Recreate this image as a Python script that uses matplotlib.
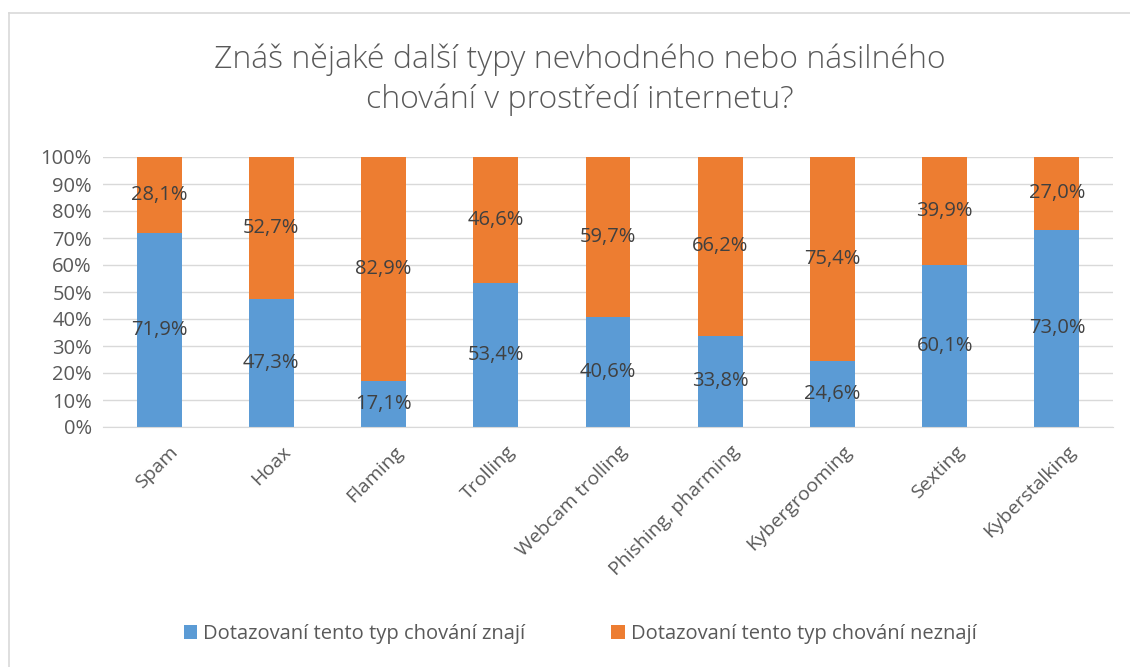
import matplotlib
matplotlib.use("Agg")
import matplotlib.pyplot as plt
from matplotlib.lines import Line2D
from matplotlib.ticker import PercentFormatter
from matplotlib.transforms import ScaledTranslation

# data
kategorie = ["Spam", "Hoax", "Flaming", "Trolling", "Webcam trolling",
             "Phishing, pharming", "Kybergrooming", "Sexting", "Kyberstalking"]
znaji = [71.9, 47.3, 17.1, 53.4, 40.6, 33.8, 24.6, 60.1, 73.0]
neznaji = [28.1, 52.7, 82.9, 46.6, 59.7, 66.2, 75.4, 39.9, 27.0]
serie_nazvy = ["Dotazovaní tento typ chování znají", "Dotazovaní tento typ chování neznají"]
titulek = "Znáš nějaké další typy nevhodného nebo násilného\nchování v prostředí internetu?"

plt.rcParams['font.family'] = ['Open Sans', 'DejaVu Sans']

MODRA = "#5B9BD5"
ORANZOVA = "#ED7D31"
SEDA = "#595959"
TMAVA = "#404040"
MRIZKA = "#D9D9D9"

fig = plt.figure(figsize=(11.3, 6.67), dpi=100)
ax = fig.add_axes([103 / 1130, 1 - 427 / 667, 1010 / 1130, 270 / 667])

x = range(len(kategorie))
ax.bar(x, znaji, width=0.4, color=MODRA, label=serie_nazvy[0], zorder=2)
ax.bar(x, neznaji, width=0.4, bottom=znaji, color=ORANZOVA, label=serie_nazvy[1], zorder=2)

# popisky hodnot
for i, (a, b) in enumerate(zip(znaji, neznaji)):
    ax.text(i, a / 2, f"{a:.1f}%".replace(".", ","), ha="center", va="center",
            fontsize=14.5, color=TMAVA, zorder=3)
    ax.text(i, a + b / 2, f"{b:.1f}%".replace(".", ","), ha="center", va="center",
            fontsize=14.5, color=TMAVA, zorder=3)

ax.set_xlim(-0.5, len(kategorie) - 0.5)
ax.set_ylim(0, 100)
ax.set_yticks(range(0, 101, 10))
ax.yaxis.set_major_formatter(PercentFormatter(decimals=0))
ax.grid(axis="y", color=MRIZKA, linewidth=1, zorder=0)
for s in ["top", "right", "left"]:
    ax.spines[s].set_visible(False)
ax.spines["bottom"].set_color(MRIZKA)
ax.tick_params(axis="both", length=0, colors=SEDA, labelsize=14.5)
ax.tick_params(axis="y", pad=8)
ax.tick_params(axis="x", pad=9, labelsize=14)
ax.set_xticks(list(x))
ax.set_xticklabels(kategorie, rotation=45, ha="right", rotation_mode="anchor")
# posun popisku doprava (jako v Excelu)
posun = ScaledTranslation(10 / 100, -3 / 100, fig.dpi_scale_trans)
for lbl in ax.get_xticklabels():
    lbl.set_transform(lbl.get_transform() + posun)

fig.text(580 / 1130, 1 - 80 / 667, titulek, ha="center", va="center",
         fontsize=23, color=SEDA, fontweight="light", linespacing=1.3)

fig.legend(loc="center", bbox_to_anchor=(580 / 1130, 1 - 634 / 667), ncol=2,
           frameon=False, fontsize=14.5, labelcolor=SEDA, handlelength=0.65,
           handleheight=0.65, handletextpad=0.3, columnspacing=4.3)

# ramecek grafu
fig.add_artist(Line2D([9 / 1130, 9 / 1130], [0, 1 - 13 / 667], color=MRIZKA, linewidth=1.2))
fig.add_artist(Line2D([9 / 1130, 1], [1 - 13 / 667, 1 - 13 / 667], color=MRIZKA, linewidth=1.2))

fig.savefig("out.png", dpi=100, facecolor="white")
